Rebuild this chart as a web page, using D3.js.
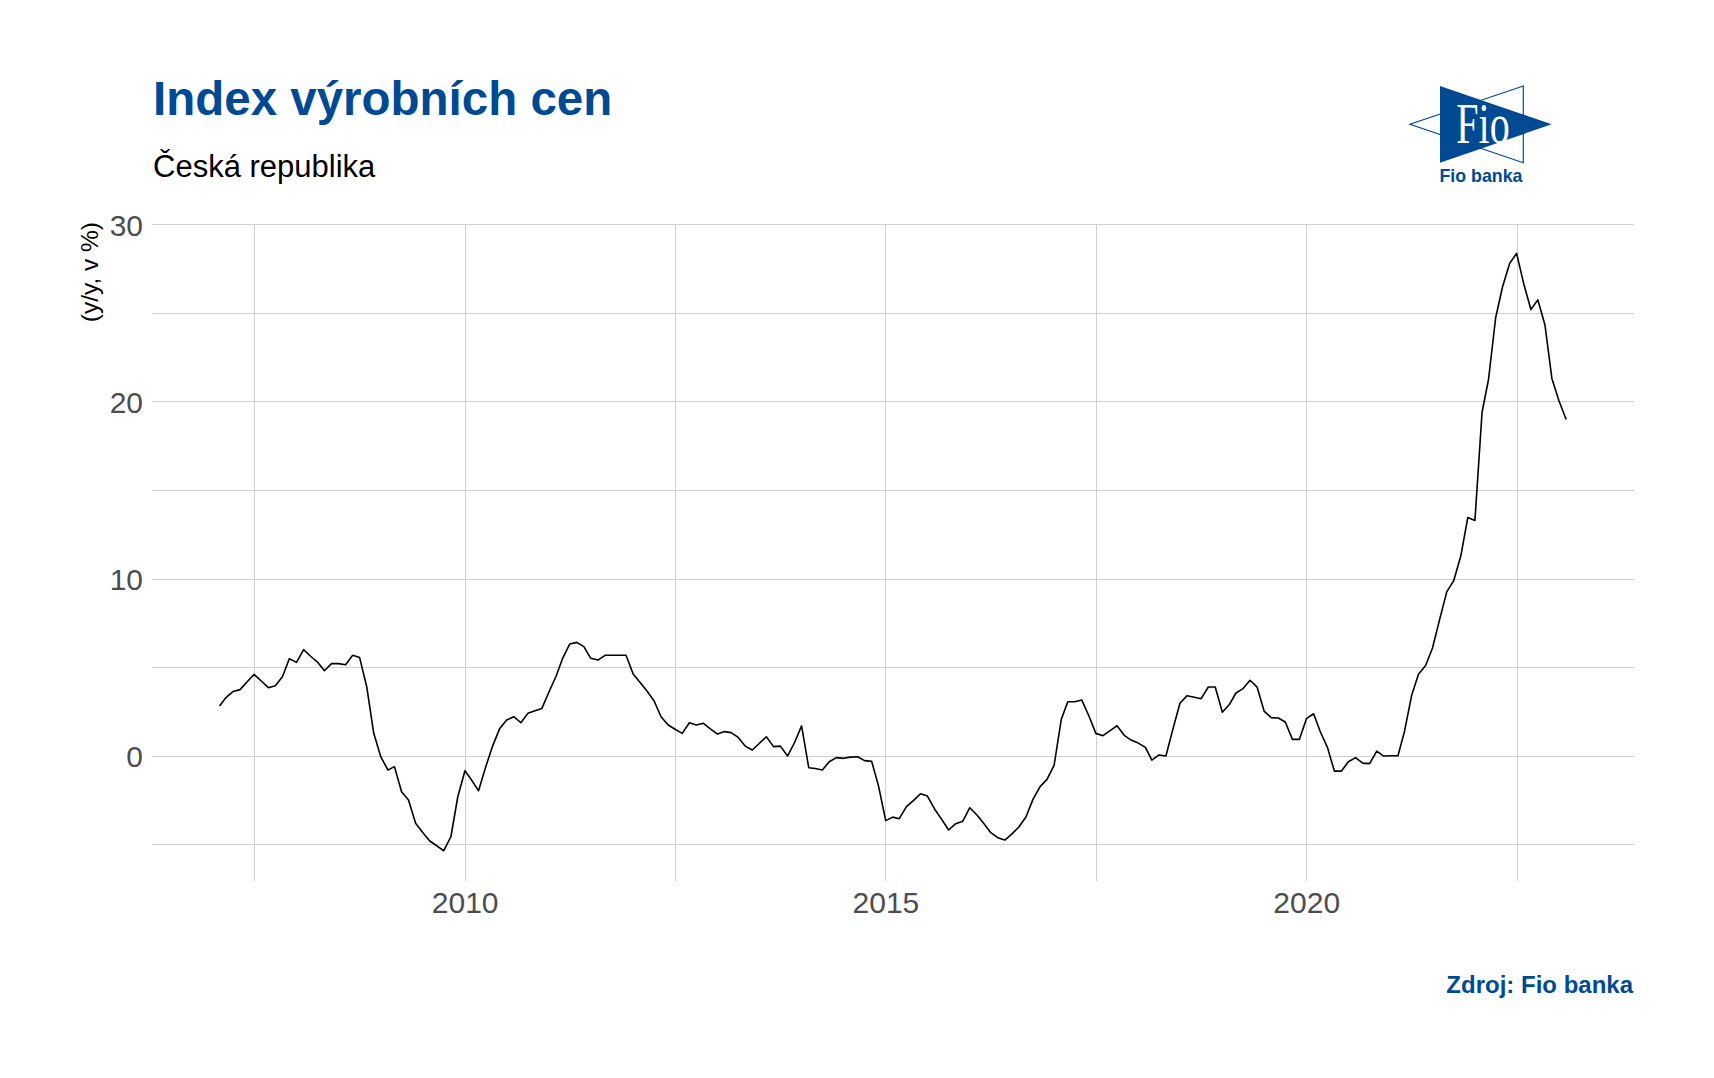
<!DOCTYPE html>
<html>
<head>
<meta charset="utf-8">
<script src="https://cdn.jsdelivr.net/npm/d3@7"></script>
<style>
  html, body { margin: 0; padding: 0; background: #fff; }
  svg { display: block; font-family: "Liberation Sans", Arial, sans-serif; }
</style>
</head>
<body>
<svg id="chart" width="1714" height="1078"></svg>
<script>
// ---- Data ----
const title = "Index výrobních cen";
const subtitle = "Česká republika";
const yLabel = "(y/y, v %)";
const source = "Zdroj: Fio banka";
const firstMonth = "2007-01";   // monthly observations, Jan 2007 .. Jan 2023
const ppi = [
  2.83, 3.30, 3.65, 3.75, 4.20, 4.61, 4.24, 3.86, 3.97, 4.48, 5.50, 5.29,   // 2007
  6.01, 5.65, 5.31, 4.82, 5.22, 5.22, 5.16, 5.69, 5.56, 3.90, 1.30, -0.05,  // 2008
  -0.79, -0.60, -2.02, -2.49, -3.80, -4.31, -4.80, -5.07, -5.35, -4.56, -2.30, -0.83, // 2009
  -1.40, -1.96, -0.62, 0.56, 1.56, 2.03, 2.22, 1.88, 2.41, 2.56, 2.69, 3.63, // 2010
  4.52, 5.52, 6.33, 6.42, 6.18, 5.52, 5.42, 5.69, 5.69, 5.69, 5.69, 4.63,   // 2011
  4.14, 3.67, 3.11, 2.22, 1.75, 1.51, 1.28, 1.88, 1.75, 1.85, 1.54, 1.24,   // 2012
  1.38, 1.32, 1.05, 0.56, 0.34, 0.71, 1.09, 0.53, 0.56, 0.00, 0.75, 1.70,   // 2013
  -0.66, -0.70, -0.79, -0.32, -0.09, -0.13, -0.06, -0.04, -0.26, -0.30, -1.70, -3.65, // 2014
  -3.45, -3.54, -2.86, -2.52, -2.13, -2.26, -2.99, -3.58, -4.18, -3.82, -3.69, -2.92, // 2015
  -3.33, -3.80, -4.33, -4.61, -4.75, -4.41, -4.01, -3.43, -2.45, -1.73, -1.32, -0.51, // 2016
  2.07, 3.07, 3.07, 3.16, 2.26, 1.28, 1.15, 1.43, 1.71, 1.17, 0.90, 0.73,   // 2017
  0.49, -0.23, 0.06, 0.00, 1.55, 2.98, 3.41, 3.32, 3.24, 3.90, 3.90, 2.47,  // 2018
  2.92, 3.56, 3.81, 4.28, 3.89, 2.54, 2.17, 2.15, 1.92, 0.94, 0.94, 2.11,   // 2019
  2.39, 1.37, 0.49, -0.85, -0.85, -0.32, -0.09, -0.40, -0.43, 0.28, 0.00, 0.02, // 2020
  0.02, 1.37, 3.40, 4.62, 5.11, 6.10, 7.72, 9.29, 9.90, 11.31, 13.47, 13.31, // 2021
  19.42, 21.27, 24.76, 26.51, 27.84, 28.39, 26.67, 25.22, 25.77, 24.35, 21.33, 20.06, // 2022
  19.01                                                                    // 2023
];
const yTicks = [0, 10, 20, 30];
const yGrid = [-5, 0, 5, 10, 15, 20, 25, 30];
const xTickYears = [2010, 2015, 2020];

// ---- Layout ----
const BLUE = "#004A93";
const panel = { left: 152.2, right: 1633.5, top: 223.6, bottom: 880.6 };
const svg = d3.select("#chart");
svg.append("rect").attr("width", 1714).attr("height", 1078).attr("fill", "#fff");

// dates: end of each month
const start = d3.utcParse("%Y-%m")(firstMonth);
const data = ppi.map((v, i) => ({
  date: d3.utcDay.offset(d3.utcMonth.offset(start, i + 1), -1),
  value: v
}));

const t0 = data[0].date, t1 = data[data.length - 1].date;
const span = t1 - t0;
const x = d3.scaleUtc()
  .domain([new Date(+t0 - 0.05 * span), new Date(+t1 + 0.05 * span)])
  .range([panel.left, panel.right]);

const [vmin, vmax] = d3.extent(ppi);
const vr = vmax - vmin;
const y = d3.scaleLinear()
  .domain([vmin - 0.05 * vr, vmax + 0.05 * vr])
  .range([panel.bottom, panel.top]);

// ---- Grid ----
const grid = svg.append("g").attr("stroke", "#CFCFCF").attr("stroke-width", 1).attr("shape-rendering", "crispEdges");
grid.selectAll("line.h").data(yGrid).join("line")
  .attr("x1", panel.left).attr("x2", panel.right)
  .attr("y1", d => y(d)).attr("y2", d => y(d));

const majorDates = [2005, ...xTickYears, 2025].map(yr => new Date(Date.UTC(yr, 0, 1)));
const minorDates = d3.pairs(majorDates).map(([a, b]) => new Date((+a + +b) / 2));
const vDates = [...xTickYears.map(yr => new Date(Date.UTC(yr, 0, 1))), ...minorDates]
  .filter(d => x(d) >= panel.left && x(d) <= panel.right);
grid.selectAll("line.v").data(vDates).join("line")
  .attr("y1", panel.top).attr("y2", panel.bottom)
  .attr("x1", d => x(d)).attr("x2", d => x(d));

// ---- Axes labels ----
svg.append("g").selectAll("text").data(yTicks).join("text")
  .attr("x", 143).attr("y", d => y(d) + 11)
  .attr("text-anchor", "end").attr("font-size", 30).attr("fill", "#4D4D4D")
  .text(d => d);

svg.append("g").selectAll("text").data(xTickYears).join("text")
  .attr("x", d => x(new Date(Date.UTC(d, 0, 1))))
  .attr("y", 913)
  .attr("text-anchor", "middle").attr("font-size", 30).attr("fill", "#4D4D4D")
  .text(d => d);

svg.append("text")
  .attr("transform", "translate(98,222) rotate(-90)")
  .attr("text-anchor", "end").attr("font-size", 24.5).attr("fill", "#000")
  .text(yLabel);

// ---- Line ----
const line = d3.line().x(d => x(d.date)).y(d => y(d.value));
svg.append("path").datum(data)
  .attr("d", line)
  .attr("fill", "none").attr("stroke", "#000").attr("stroke-width", 1.6)
  .attr("stroke-linejoin", "round");

// ---- Titles ----
svg.append("text").attr("x", 153).attr("y", 115)
  .attr("font-size", 47.5).attr("font-weight", "bold").attr("fill", BLUE)
  .text(title);
svg.append("text").attr("x", 153).attr("y", 177)
  .attr("font-size", 31).attr("fill", "#000")
  .text(subtitle);
svg.append("text").attr("x", 1633).attr("y", 993)
  .attr("text-anchor", "end").attr("font-size", 24).attr("font-weight", "bold").attr("fill", BLUE)
  .text(source);

// ---- Logo ----
const logo = svg.append("g");
logo.append("polygon")
  .attr("points", "1523.3,86 1523.3,162.7 1410,124.3")
  .attr("fill", "#fff").attr("stroke", BLUE).attr("stroke-width", 1.2);
logo.append("polygon")
  .attr("points", "1440,86 1440,162.7 1551.7,124.3")
  .attr("fill", BLUE);
logo.append("text")
  .attr("transform", "translate(1483,143) scale(1,1.4)")
  .attr("text-anchor", "middle")
  .attr("font-family", "'Liberation Serif', 'DejaVu Serif', serif")
  .attr("font-size", 40).attr("fill", "#fff")
  .text("Fio");
logo.append("text")
  .attr("x", 1481).attr("y", 182)
  .attr("text-anchor", "middle").attr("font-size", 17.8).attr("font-weight", "bold").attr("fill", BLUE)
  .text("Fio banka");
</script>
</body>
</html>
